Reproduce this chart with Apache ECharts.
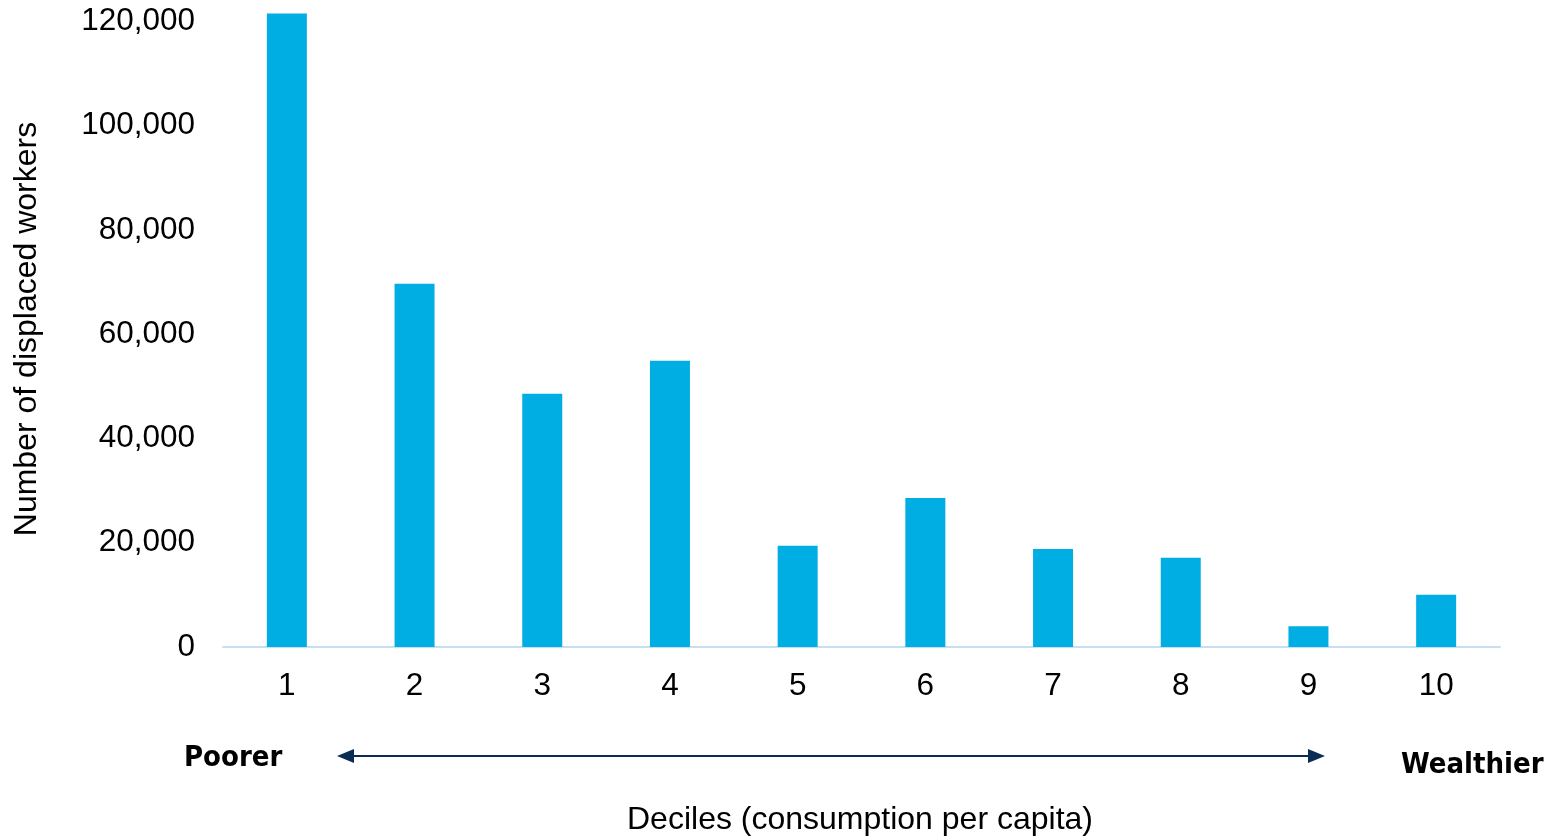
<!DOCTYPE html>
<html>
<head>
<meta charset="utf-8">
<script src="https://cdn.jsdelivr.net/npm/echarts@6/dist/echarts.min.js"></script>
<style>
  html, body { margin: 0; padding: 0; background: #ffffff; }
  #chart { width: 1557px; height: 836px; }
</style>
</head>
<body>
<div id="chart"></div>
<script>
// Displaced workers by consumption decile
const deciles = ['1', '2', '3', '4', '5', '6', '7', '8', '9', '10'];
const displacedWorkers = [121500, 69700, 48600, 54900, 19400, 28600, 18800, 17100, 4000, 10000];
const yTicks = [0, 20000, 40000, 60000, 80000, 100000, 120000];

const sans = '"Liberation Sans", Arial, sans-serif';
const boldFace = '"DejaVu Sans Condensed", "DejaVu Sans", Verdana, sans-serif';
const navy = '#0b2d55';

const chart = echarts.init(document.getElementById('chart'));
chart.setOption({
  animation: false,
  grid: { left: 223, right: 57, top: 11, bottom: 189, containLabel: false },
  xAxis: {
    type: 'category',
    data: deciles,
    axisLine: { show: true, lineStyle: { color: '#c6dff5', width: 2 } },
    axisTick: { show: false },
    axisLabel: { color: '#000', fontSize: 31.5, fontFamily: sans, margin: 23 }
  },
  yAxis: {
    type: 'value',
    min: yTicks[0],
    max: 122000,
    interval: yTicks[1] - yTicks[0],
    name: 'Number of displaced workers',
    nameLocation: 'middle',
    nameGap: 180,
    nameRotate: 90,
    nameTextStyle: { color: '#000', fontSize: 32, fontFamily: sans },
    splitLine: { show: false },
    axisLine: { show: false },
    axisTick: { show: false },
    axisLabel: {
      color: '#000', fontSize: 31.5, fontFamily: sans, margin: 28,
      padding: [4, 0, 0, 0],
      showMaxLabel: false,
      formatter: v => yTicks.includes(v) ? v.toLocaleString('en-US') : ''
    }
  },
  series: [{
    type: 'bar',
    data: displacedWorkers,
    barWidth: 40,
    itemStyle: { color: '#00aee4' }
  }],
  graphic: [
    {
      type: 'text', left: 184, top: 744,
      style: { text: 'Poorer', fill: '#000', font: 'bold 29px ' + boldFace }
    },
    {
      type: 'text', left: 1401, top: 751,
      style: { text: 'Wealthier', fill: '#000', font: 'bold 29px ' + boldFace }
    },
    {
      type: 'line',
      shape: { x1: 352, y1: 756, x2: 1311, y2: 756 },
      style: { stroke: navy, lineWidth: 2 }
    },
    {
      type: 'polygon',
      shape: { points: [[337, 756], [354, 749], [354, 763]] },
      style: { fill: navy }
    },
    {
      type: 'polygon',
      shape: { points: [[1325, 756], [1308, 749], [1308, 763]] },
      style: { fill: navy }
    },
    {
      type: 'text', left: 627, top: 804,
      style: { text: 'Deciles (consumption per capita)', fill: '#000', font: '32px ' + sans }
    }
  ]
});
</script>
</body>
</html>
